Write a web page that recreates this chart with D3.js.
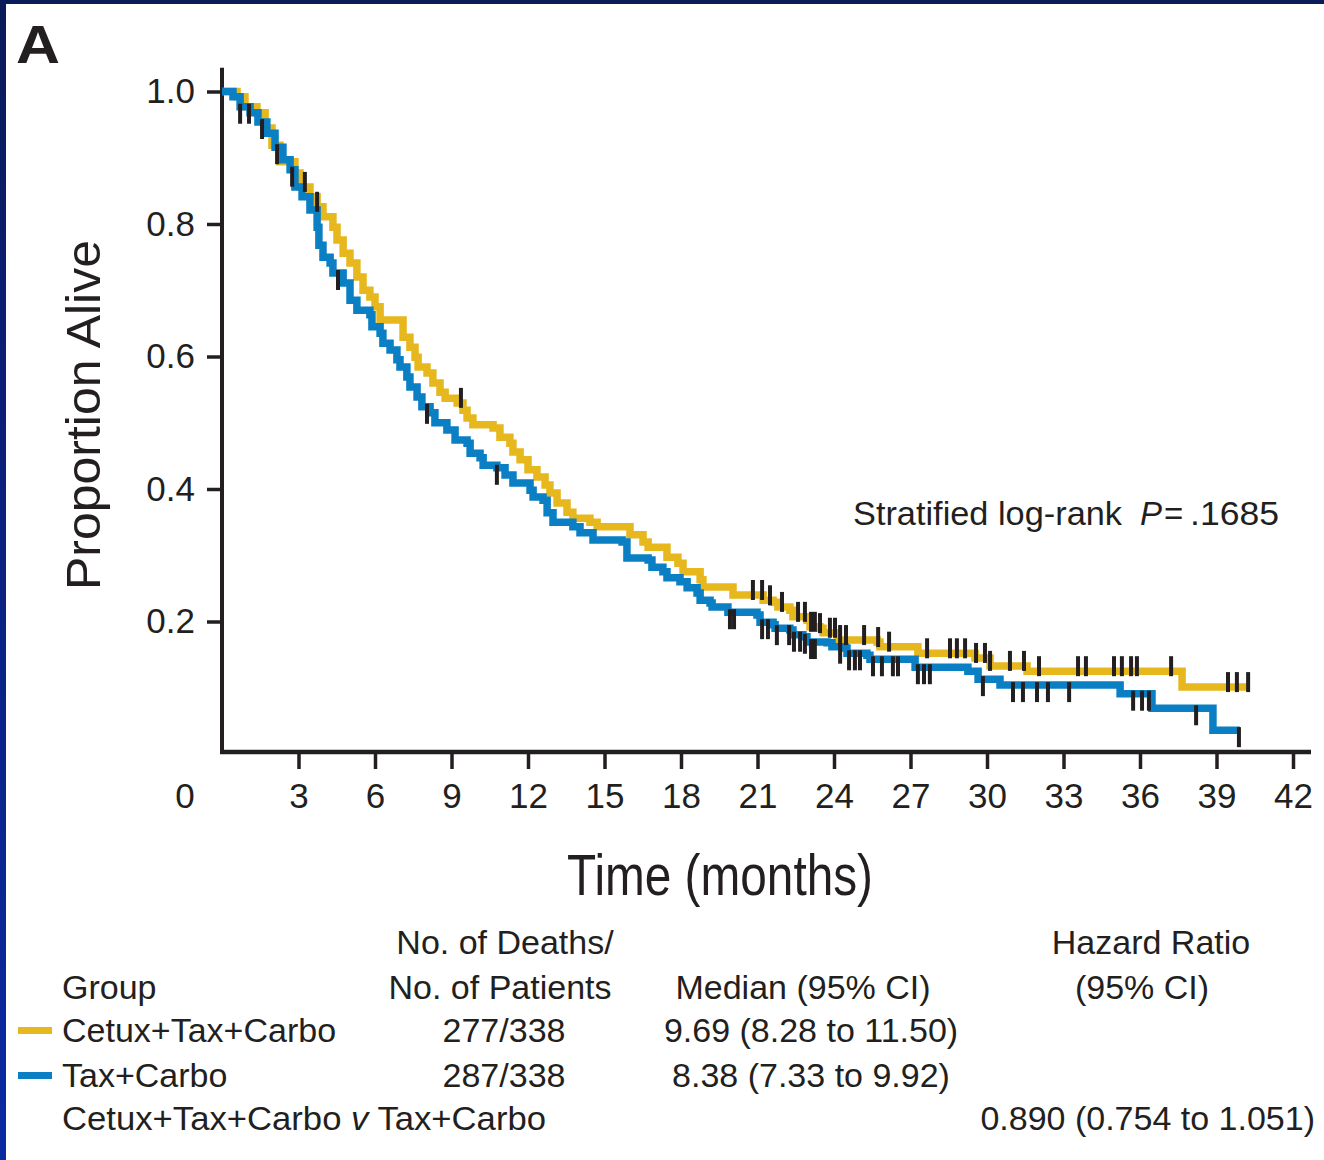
<!DOCTYPE html>
<html>
<head>
<meta charset="utf-8">
<script src="https://cdn.jsdelivr.net/npm/d3@7"></script>
<style>
body { margin: 0; background: #fff; }
svg { display: block; }
text { font-family: "Liberation Sans", Arial, sans-serif; fill: #231f20; }
</style>
</head>
<body>
<svg id="chart" width="1324" height="1160"></svg>
<script>
// step curves: [time of drop (months), proportion alive after the drop]
var yellowSteps = [
    [0.59, 0.992], [0.90, 0.977], [1.37, 0.968], [1.69, 0.945], [1.96, 0.919], [2.27, 0.894],
    [2.86, 0.877], [3.06, 0.856], [3.45, 0.841], [3.73, 0.826], [3.96, 0.811], [4.35, 0.795],
    [4.51, 0.776], [4.75, 0.756], [5.02, 0.741], [5.29, 0.720], [5.53, 0.700], [5.80, 0.690],
    [6.00, 0.675], [6.20, 0.655], [7.10, 0.629], [7.37, 0.614], [7.57, 0.599], [7.69, 0.584],
    [8.04, 0.575], [8.27, 0.560], [8.55, 0.546], [8.75, 0.537], [9.22, 0.530], [9.45, 0.519],
    [9.61, 0.507], [9.84, 0.497], [10.63, 0.492], [10.90, 0.478], [11.29, 0.469], [11.41, 0.456],
    [11.69, 0.444], [12.00, 0.429], [12.35, 0.418], [12.67, 0.406], [12.86, 0.394], [13.14, 0.379],
    [13.53, 0.365], [13.76, 0.356], [14.43, 0.350], [14.71, 0.343], [16.00, 0.331], [16.51, 0.320],
    [16.71, 0.312], [17.45, 0.297], [17.88, 0.288], [18.08, 0.275], [18.75, 0.263], [18.86, 0.252],
    [20.04, 0.240], [21.22, 0.232], [21.61, 0.229], [21.80, 0.222], [22.27, 0.217], [22.39, 0.207],
    [22.94, 0.202], [23.06, 0.192], [23.45, 0.190], [23.57, 0.183], [24.12, 0.180], [24.16, 0.172],
    [25.69, 0.169], [25.80, 0.162], [27.29, 0.152], [29.53, 0.145], [30.12, 0.133], [31.57, 0.125],
    [37.65, 0.101]
];
var yellowEnd = 40.31;

var blueSteps = [
    [0.43, 0.992], [0.71, 0.977], [1.10, 0.968], [1.41, 0.954], [1.76, 0.937], [2.08, 0.916],
    [2.39, 0.897], [2.67, 0.882], [2.86, 0.856], [3.14, 0.841], [3.45, 0.821], [3.73, 0.795],
    [3.80, 0.768], [3.96, 0.750], [4.24, 0.741], [4.35, 0.726], [4.75, 0.711], [5.02, 0.685],
    [5.29, 0.670], [5.80, 0.663], [5.88, 0.645], [6.20, 0.635], [6.31, 0.620], [6.59, 0.610],
    [6.86, 0.595], [6.98, 0.584], [7.25, 0.569], [7.37, 0.554], [7.65, 0.539], [7.84, 0.524],
    [8.16, 0.515], [8.35, 0.500], [8.82, 0.489], [9.14, 0.474], [9.61, 0.469], [9.73, 0.454],
    [10.12, 0.447], [10.24, 0.436], [10.78, 0.432], [11.10, 0.421], [11.41, 0.409], [12.08, 0.398],
    [12.20, 0.388], [12.59, 0.383], [12.75, 0.364], [12.98, 0.350], [13.76, 0.343], [14.04, 0.334],
    [14.55, 0.323], [15.69, 0.320], [15.88, 0.296], [16.71, 0.293], [16.86, 0.282], [17.29, 0.275],
    [17.45, 0.266], [17.96, 0.260], [18.24, 0.251], [18.63, 0.243], [18.75, 0.232], [19.14, 0.228],
    [19.22, 0.222], [19.84, 0.214], [20.98, 0.210], [21.10, 0.199], [21.61, 0.195], [21.69, 0.190],
    [22.27, 0.187], [22.39, 0.180], [22.78, 0.177], [22.94, 0.169], [23.73, 0.168], [23.92, 0.162],
    [24.43, 0.160], [24.51, 0.152], [25.29, 0.149], [25.41, 0.143], [27.18, 0.131], [29.25, 0.125],
    [29.65, 0.113], [30.51, 0.104], [35.22, 0.091], [36.47, 0.069], [38.86, 0.036]
];
var blueEnd = 39.92;

// censored observations (months)
var yellowCensor = [3.25, 3.73, 9.37, 20.82, 21.18, 21.49, 21.96, 22.59, 22.86, 23.10, 23.25, 23.45,
    23.84, 24.04, 24.24, 24.47, 25.18, 25.73, 26.16, 27.65, 28.55, 28.82, 29.14, 29.57, 29.92, 30.12,
    30.90, 31.45, 32.04, 33.57, 33.88, 34.98, 35.29, 35.65, 35.88, 37.22, 39.45, 39.80, 40.24];
var blueCensor = [0.71, 1.06, 1.57, 2.16, 2.75, 4.55, 8.04, 10.78, 19.92, 20.08, 21.18, 21.41, 21.76,
    22.24, 22.43, 22.67, 22.86, 23.10, 23.25, 24.24, 24.59, 24.82, 25.02, 25.53, 25.88, 26.31, 26.51,
    27.29, 27.53, 27.76, 29.84, 31.02, 31.41, 31.96, 32.39, 33.22, 35.73, 36.08, 36.35, 38.20, 39.88];

var xTicks = [3, 6, 9, 12, 15, 18, 21, 24, 27, 30, 33, 36, 39, 42];
var yTicks = [0.2, 0.4, 0.6, 0.8, 1.0];

var groupNames = ['Cetux+Tax+Carbo', 'Tax+Carbo'];
var deathCounts = ['277/338', '287/338'];
var medians = ['9.69 (8.28 to 11.50)', '8.38 (7.33 to 9.92)'];
var hazardRatio = '0.890 (0.754 to 1.051)';
var colors = ['#e6b81e', '#0a7fc4'];

var ink = '#231f20';
var svg = d3.select('#chart');

// frame
var defs = svg.append('defs');
var grad = defs.append('linearGradient')
    .attr('id', 'edge')
    .attr('x1', 0).attr('y1', 0).attr('x2', 0).attr('y2', 1);
grad.append('stop').attr('offset', '0%').attr('stop-color', '#0b1a58');
grad.append('stop').attr('offset', '35%').attr('stop-color', '#0b1f78');
grad.append('stop').attr('offset', '100%').attr('stop-color', '#0a2aa2');

svg.append('rect').attr('x', 0).attr('y', 0).attr('width', 1324).attr('height', 4).attr('fill', '#0b1a58');
svg.append('rect').attr('x', 0).attr('y', 0).attr('width', 6).attr('height', 1160).attr('fill', 'url(#edge)');

svg.append('text')
    .attr('x', 16).attr('y', 63)
    .attr('textLength', 44).attr('lengthAdjust', 'spacingAndGlyphs')
    .style('font-size', '54px').style('font-weight', 'bold')
    .text('A');

var x = d3.scaleLinear().domain([0, 42]).range([222, 1293]);
var y = d3.scaleLinear().domain([0, 1]).range([754, 91.5]);

// axes
var yAxis = svg.append('g')
    .attr('transform', 'translate(' + x(0) + ',0)')
    .call(d3.axisLeft(y).tickValues(yTicks).tickSize(15).tickPadding(12).tickFormat(d3.format('.1f')));
var xAxis = svg.append('g')
    .attr('transform', 'translate(0,752)')
    .call(d3.axisBottom(x).tickValues(xTicks).tickSize(17).tickPadding(14));

[yAxis, xAxis].forEach(function (g) {
    g.select('.domain').remove();
    g.selectAll('line').attr('stroke', ink).attr('stroke-width', 3.5);
    g.selectAll('text')
        .style('font-family', '"Liberation Sans", Arial, sans-serif')
        .style('font-size', '35px')
        .attr('fill', ink);
});

svg.append('text')
    .attr('x', x(0) - 37).attr('y', 808)
    .attr('text-anchor', 'middle')
    .style('font-size', '35px')
    .text('0');

svg.append('line')
    .attr('x1', x(0)).attr('x2', x(0))
    .attr('y1', y(1.036)).attr('y2', 754)
    .attr('stroke', ink).attr('stroke-width', 4);
svg.append('line')
    .attr('x1', x(0) - 2).attr('x2', 1311)
    .attr('y1', 752).attr('y2', 752)
    .attr('stroke', ink).attr('stroke-width', 4.5);

// curves
var line = d3.line()
    .x(function (d) { return x(d[0]); })
    .y(function (d) { return y(d[1]); })
    .curve(d3.curveStepAfter);

function fullPath(steps, end) {
    return [[0, 1]].concat(steps).concat([[end, steps[steps.length - 1][1]]]);
}

function survivalAt(steps, t) {
    var s = 1;
    steps.forEach(function (d) {
        if (d[0] <= t) s = d[1];
    });
    return s;
}

var curves = [
    {steps: yellowSteps, end: yellowEnd, censor: yellowCensor, color: colors[0], shift: -5},
    {steps: blueSteps, end: blueEnd, censor: blueCensor, color: colors[1], shift: 7}
];

curves.forEach(function (c) {
    svg.append('path')
        .datum(fullPath(c.steps, c.end))
        .attr('d', line)
        .attr('fill', 'none')
        .attr('stroke', c.color)
        .attr('stroke-width', 7.5)
        .attr('stroke-linejoin', 'miter');
});

curves.forEach(function (c) {
    svg.append('g').selectAll('line')
        .data(c.censor)
        .join('line')
        .attr('x1', function (d) { return x(d); })
        .attr('x2', function (d) { return x(d); })
        .attr('y1', function (d) { return y(survivalAt(c.steps, d)) + c.shift - 10; })
        .attr('y2', function (d) { return y(survivalAt(c.steps, d)) + c.shift + 10; })
        .attr('stroke', ink)
        .attr('stroke-width', 4);
});

// annotation
svg.append('text').attr('x', 853).attr('y', 525)
    .attr('textLength', 269).attr('lengthAdjust', 'spacingAndGlyphs')
    .style('font-size', '33px').text('Stratified log-rank');
svg.append('text').attr('x', 1140).attr('y', 525)
    .style('font-size', '33px').style('font-style', 'italic').text('P');
svg.append('text').attr('x', 1164).attr('y', 525)
    .style('font-size', '33px').text('=');
svg.append('text').attr('x', 1190).attr('y', 525)
    .attr('textLength', 89).attr('lengthAdjust', 'spacingAndGlyphs')
    .style('font-size', '33px').text('.1685');

// axis titles
svg.append('text')
    .attr('transform', 'translate(100,415) rotate(-90)')
    .attr('text-anchor', 'middle')
    .attr('textLength', 350).attr('lengthAdjust', 'spacingAndGlyphs')
    .style('font-size', '48px')
    .text('Proportion Alive');

svg.append('text')
    .attr('x', 567).attr('y', 895)
    .attr('textLength', 306).attr('lengthAdjust', 'spacingAndGlyphs')
    .style('font-size', '58px')
    .text('Time (months)');

// table
var fs = '34px';
function cell(tx, ty, str, anchor) {
    return svg.append('text')
        .attr('x', tx).attr('y', ty)
        .attr('text-anchor', anchor || 'start')
        .style('font-size', fs)
        .text(str);
}

cell(505, 954, 'No. of Deaths/', 'middle');
cell(500, 999, 'No. of Patients', 'middle');
cell(62, 999, 'Group');
cell(803, 999, 'Median (95% CI)', 'middle');
cell(1151, 954, 'Hazard Ratio', 'middle');
cell(1142, 999, '(95% CI)', 'middle');

var rowY = [1042, 1087];
groupNames.forEach(function (g, i) {
    svg.append('rect')
        .attr('x', 18).attr('y', rowY[i] - 15)
        .attr('width', 34).attr('height', 7)
        .attr('fill', colors[i]);
    cell(62, rowY[i], g);
    cell(504, rowY[i], deathCounts[i], 'middle');
    cell(811, rowY[i], medians[i], 'middle');
});

var cmp = cell(62, 1130, '')
    .attr('textLength', 484).attr('lengthAdjust', 'spacingAndGlyphs');
cmp.append('tspan').text(groupNames[0] + ' ');
cmp.append('tspan').style('font-style', 'italic').text('v');
cmp.append('tspan').text(' ' + groupNames[1]);
cell(1315, 1130, hazardRatio, 'end');
</script>
</body>
</html>
